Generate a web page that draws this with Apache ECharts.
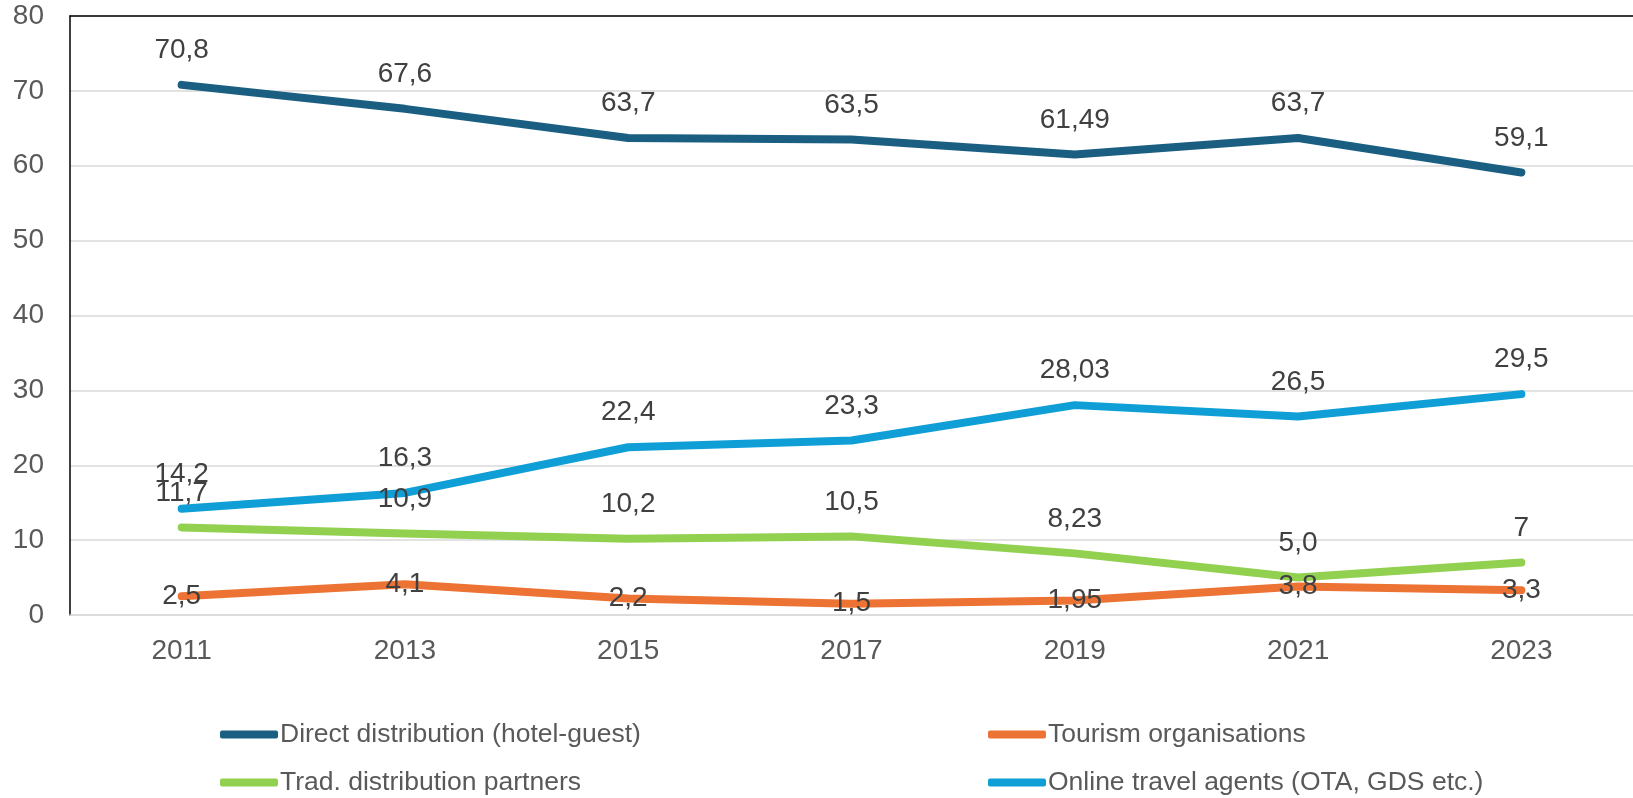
<!DOCTYPE html>
<html>
<head>
	<meta charset="utf-8">
	<script src="https://cdn.jsdelivr.net/npm/echarts@6/dist/echarts.min.js"></script>
</head>
<body style="margin:0;">
	<div id="main" style="width:1633px;height:798px;"></div>
	<script type="text/javascript">
        // data
        var years = ['2011', '2013', '2015', '2017', '2019', '2021', '2023'];
        var directValues = [70.8, 67.6, 63.7, 63.5, 61.49, 63.7, 59.1];
        var directLabels = ['70,8', '67,6', '63,7', '63,5', '61,49', '63,7', '59,1'];
        var tourismValues = [2.5, 4.1, 2.2, 1.5, 1.95, 3.8, 3.3];
        var tourismLabels = ['2,5', '4,1', '2,2', '1,5', '1,95', '3,8', '3,3'];
        var tradValues = [11.7, 10.9, 10.2, 10.5, 8.23, 5.0, 7];
        var tradLabels = ['11,7', '10,9', '10,2', '10,5', '8,23', '5,0', '7'];
        var onlineValues = [14.2, 16.3, 22.4, 23.3, 28.03, 26.5, 29.5];
        var onlineLabels = ['14,2', '16,3', '22,4', '23,3', '28,03', '26,5', '29,5'];

        var font = '"Liberation Sans", Arial, sans-serif';

        function makeSeries(name, values, labels, color, labelPos) {
            return {
                name: name,
                type: 'line',
                data: values,
                color: color,
                symbol: 'circle',
                symbolSize: 1,
                lineStyle: { width: 8, color: color, cap: 'round', join: 'round' },
                label: {
                    show: true,
                    position: labelPos,
                    distance: 20,
                    fontFamily: font,
                    fontSize: 28,
                    color: '#404040',
                    formatter: function (p) { return labels[p.dataIndex]; }
                },
                emphasis: { disabled: true },
                animation: false
            };
        }

        // one legend per entry so that they sit in a 2x2 block
        function makeLegend(name, left, top, w) {
            return {
                data: [name],
                left: left, top: top,
                icon: 'roundRect', itemWidth: w, itemHeight: 8,
                textStyle: { fontFamily: font, fontSize: 26.5, color: '#595959', padding: [0, 0, 0, -3] }
            };
        }

        var myChart = echarts.init(document.getElementById('main'));
        var option = {
            backgroundColor: '#ffffff',
            grid: { left: 70, top: 16, right: -2, bottom: 183 },
            legend: [
                makeLegend('Direct distribution (hotel-guest)', 215, 716, 58),
                makeLegend('Trad. distribution partners', 215, 764, 58),
                makeLegend('Tourism organisations', 983, 716, 58),
                makeLegend('Online travel agents (OTA, GDS etc.)', 983, 764, 58)
            ],
            xAxis: [
                {
                    type: 'category',
                    data: years,
                    axisLine: { show: true, lineStyle: { color: '#d9d9d9', width: 1.5 } },
                    axisTick: { show: false },
                    axisLabel: { fontFamily: font, fontSize: 28, color: '#595959', margin: 22 }
                },
                {
                    type: 'category',
                    position: 'top',
                    data: years,
                    axisLine: { show: true, lineStyle: { color: '#000000', width: 1.5 } },
                    axisTick: { show: false },
                    axisLabel: { show: false }
                }
            ],
            yAxis: {
                type: 'value',
                min: 0, max: 80, interval: 10,
                axisLine: { show: true, lineStyle: { color: '#000000', width: 1.5 } },
                splitLine: { lineStyle: { color: '#d9d9d9', width: 1.5 } },
                axisLabel: { fontFamily: font, fontSize: 28, color: '#595959', margin: 26 }
            },
            series: [
                makeSeries('Direct distribution (hotel-guest)', directValues, directLabels, '#1a5f82', 'top'),
                makeSeries('Tourism organisations', tourismValues, tourismLabels, '#ec7333', 'inside'),
                makeSeries('Trad. distribution partners', tradValues, tradLabels, '#92d050', 'top'),
                makeSeries('Online travel agents (OTA, GDS etc.)', onlineValues, onlineLabels, '#0f9fd6', 'top')
            ]
        };
        myChart.setOption(option);
    </script>
</body>
</html>
